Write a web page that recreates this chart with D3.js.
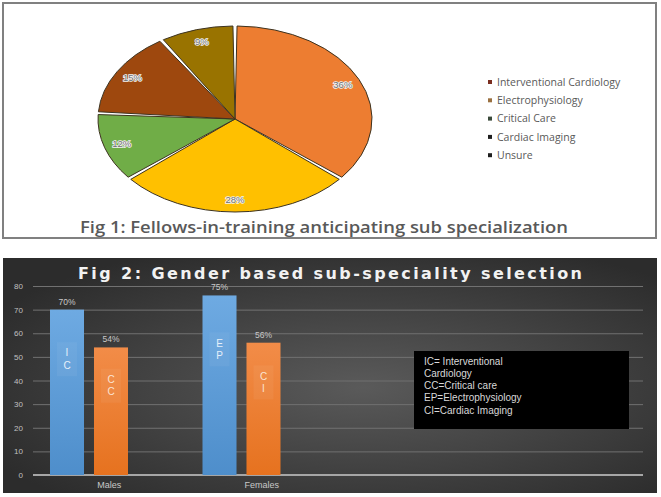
<!DOCTYPE html>
<html>
<head>
<meta charset="utf-8">
<script src="https://cdn.jsdelivr.net/npm/d3@7"></script>
<style>
	body { margin: 0; background: #fff; }
	svg { display: block; font-family: "Liberation Sans", Arial, sans-serif; }
</style>
</head>
<body>
<svg id="chart" width="661" height="497"></svg>
<script>
// Fig 1 data
var pieNames = ['Interventional Cardiology', 'Electrophysiology', 'Critical Care',
		'Cardiac Imaging', 'Unsure'],
	pieValues = [36, 28, 12, 15, 9],
	pieLabels = ['36%', '28%', '12%', '15%', '9%'],
	pieColors = ['#ed7d31', '#ffc000', '#70ad47', '#9e480e', '#997300'],
	legendMarks = ['#7a2e20', '#9a7040', '#3a4a3a', '#1e1e1e', '#1e1e1e'];

// Fig 2 data
var categories = ['Males', 'Females'],
	blueValues = [70, 76],
	blueLabels = ['70%', '75%'],
	blueCodes = ['IC', 'EP'],
	orangeValues = [54, 56],
	orangeLabels = ['54%', '56%'],
	orangeCodes = ['CC', 'CI'],
	yTicks = [0, 10, 20, 30, 40, 50, 60, 70, 80],
	keyLines = ['IC= Interventional', 'Cardiology', 'CC=Critical care',
		'EP=Electrophysiology', 'CI=Cardiac Imaging'];

var svg = d3.select('#chart'),
	defs = svg.append('defs');

function drawPie() {
	var cx = 235, cy = 119, r = 93, sx = 137 / 93;

	svg.append('rect')
		.attr('x', 3).attr('y', 3)
		.attr('width', 653).attr('height', 235)
		.attr('fill', '#fff')
		.attr('stroke', '#808080')
		.attr('stroke-width', 2);

	var arcs = d3.pie().sort(null).value(function(d) { return d; })(pieValues),
		arc = d3.arc().innerRadius(0).outerRadius(r).padAngle(0.03).padRadius(r),
		labelArc = d3.arc().innerRadius(r * 0.87).outerRadius(r * 0.87);

	var g = svg.append('g')
		.attr('transform', 'translate(' + cx + ',' + cy + ') scale(' + sx + ',1)');
	g.selectAll('path')
		.data(arcs)
		.enter().append('path')
		.attr('d', arc)
		.attr('fill', function(d, i) { return pieColors[i]; })
		.attr('stroke', '#3d3320')
		.attr('stroke-width', 1)
		.attr('vector-effect', 'non-scaling-stroke');

	svg.append('g')
		.selectAll('text')
		.data(arcs)
		.enter().append('text')
		.attr('x', function(d) { return cx + labelArc.centroid(d)[0] * sx; })
		.attr('y', function(d) { return cy + labelArc.centroid(d)[1]; })
		.attr('dy', '0.35em')
		.attr('text-anchor', 'middle')
		.attr('font-size', 9.5)
		.attr('fill', '#707070')
		.attr('stroke', '#f4f4f4')
		.attr('stroke-width', 1.6)
		.attr('paint-order', 'stroke')
		.text(function(d, i) { return pieLabels[i]; });

	var legend = svg.append('g')
		.selectAll('g')
		.data(pieNames)
		.enter().append('g')
		.attr('transform', function(d, i) { return 'translate(490,' + (82 + i * 18.3) + ')'; });
	legend.append('rect')
		.attr('x', -2).attr('y', -2)
		.attr('width', 4).attr('height', 4)
		.attr('fill', function(d, i) { return legendMarks[i]; });
	legend.append('text')
		.attr('x', 7)
		.attr('dy', '0.35em')
		.attr('font-family', '"Open Sans", sans-serif')
		.attr('font-size', 10.5)
		.attr('fill', '#595959')
		.text(function(d) { return d; });

	svg.append('text')
		.attr('x', 80).attr('y', 233)
		.attr('font-family', '"Open Sans", sans-serif')
		.attr('font-size', 16)
		.attr('font-weight', 600)
		.attr('fill', '#595959')
		.attr('textLength', 488)
		.attr('lengthAdjust', 'spacingAndGlyphs')
		.text('Fig 1: Fellows-in-training anticipating sub specialization');
}

function gradient(id, top, bottom) {
	var lg = defs.append('linearGradient')
		.attr('id', id)
		.attr('x1', 0).attr('y1', 0).attr('x2', 0).attr('y2', 1);
	lg.append('stop').attr('offset', '0%').attr('stop-color', top);
	lg.append('stop').attr('offset', '100%').attr('stop-color', bottom);
}

function drawBars() {
	var bg = defs.append('radialGradient')
		.attr('id', 'panel')
		.attr('cx', '55%').attr('cy', '55%').attr('r', '65%');
	bg.append('stop').attr('offset', '0%').attr('stop-color', '#5a5a5a');
	bg.append('stop').attr('offset', '100%').attr('stop-color', '#2c2c2c');
	gradient('blue', '#6eaae2', '#4e8ecb');
	gradient('orange', '#f28c48', '#e6721f');

	svg.append('rect')
		.attr('x', 3).attr('y', 258)
		.attr('width', 654).attr('height', 235)
		.attr('fill', 'url(#panel)');

	svg.append('text')
		.attr('x', 78).attr('y', 279)
		.attr('font-family', '"DejaVu Sans", sans-serif')
		.attr('font-size', 16)
		.attr('font-weight', 'bold')
		.attr('fill', '#f2f2f2')
		.attr('textLength', 504)
		.attr('lengthAdjust', 'spacing')
		.text('Fig 2: Gender based sub-speciality selection');

	var left = 33, right = 643,
		y = d3.scaleLinear().domain([0, 80]).range([475, 286]),
		x0 = d3.scaleBand().domain(categories).range([left, left + 2 * 152.5]),
		x1 = d3.scaleBand().domain(['blue', 'orange']).range([17, 95]).paddingInner(0.227);

	var yAxis = svg.append('g')
		.attr('transform', 'translate(' + left + ',0)')
		.call(d3.axisLeft(y).tickValues(yTicks).tickSize(-(right - left)).tickPadding(10));
	yAxis.select('.domain').remove();
	yAxis.selectAll('line').attr('stroke', '#717171').attr('stroke-width', 1);
	yAxis.selectAll('text')
		.attr('font-size', 8)
		.attr('fill', '#c0c0c0')
		.attr('font-family', '"Liberation Sans", Arial, sans-serif');

	svg.append('line')
		.attr('x1', left).attr('x2', right)
		.attr('y1', y(0)).attr('y2', y(0))
		.attr('stroke', '#a6a6a6')
		.attr('stroke-width', 2);

	var xAxis = svg.append('g')
		.attr('transform', 'translate(0,' + y(0) + ')')
		.call(d3.axisBottom(x0).tickSize(0).tickPadding(7));
	xAxis.select('.domain').remove();
	xAxis.selectAll('text')
		.attr('font-size', 9)
		.attr('fill', '#c8c8c8')
		.attr('font-family', '"Liberation Sans", Arial, sans-serif');

	var series = [
		{key: 'blue', values: blueValues, labels: blueLabels, codes: blueCodes, text: '#e6f0fa'},
		{key: 'orange', values: orangeValues, labels: orangeLabels, codes: orangeCodes, text: '#fbe3d2'}
	];

	series.forEach(function(s) {
		var g = svg.append('g');
		g.selectAll('rect')
			.data(s.values)
			.enter().append('rect')
			.attr('x', function(d, i) { return x0(categories[i]) + x1(s.key); })
			.attr('y', function(d) { return y(d); })
			.attr('width', x1.bandwidth())
			.attr('height', function(d) { return y(0) - y(d); })
			.attr('fill', 'url(#' + s.key + ')');

		g.selectAll('text.value')
			.data(s.values)
			.enter().append('text')
			.attr('class', 'value')
			.attr('x', function(d, i) { return x0(categories[i]) + x1(s.key) + x1.bandwidth() / 2; })
			.attr('y', function(d) { return y(d) - 5; })
			.attr('text-anchor', 'middle')
			.attr('font-size', 8.5)
			.attr('fill', '#c8c8c8')
			.text(function(d, i) { return s.labels[i]; });

		// stacked code letters inside the bar
		var codes = g.selectAll('g.code')
			.data(s.values)
			.enter().append('g')
			.attr('class', 'code')
			.attr('transform', function(d, i) {
				return 'translate(' + (x0(categories[i]) + x1(s.key) + x1.bandwidth() / 2) +
					',' + y(d * 0.7) + ')';
			});
		codes.append('rect')
			.attr('x', -10).attr('y', -17)
			.attr('width', 20).attr('height', 34)
			.attr('fill', '#fff')
			.attr('opacity', 0.05);
		codes.each(function(d, i) {
			d3.select(this).selectAll('text')
				.data(s.codes[i].split(''))
				.enter().append('text')
				.attr('y', function(c, j) { return (j - 0.5) * 12.5; })
				.attr('dy', '0.35em')
				.attr('text-anchor', 'middle')
				.attr('font-size', 10)
				.attr('fill', s.text)
				.text(function(c) { return c; });
		});
	});

	svg.append('rect')
		.attr('x', 414).attr('y', 351)
		.attr('width', 215).attr('height', 78)
		.attr('fill', '#000');
	svg.append('g')
		.selectAll('text')
		.data(keyLines)
		.enter().append('text')
		.attr('x', 424)
		.attr('y', function(d, i) { return 364.5 + i * 12.3; })
		.attr('font-size', 10)
		.attr('fill', '#d9d9d9')
		.text(function(d) { return d; });
}

drawPie();
drawBars();
</script>
</body>
</html>
